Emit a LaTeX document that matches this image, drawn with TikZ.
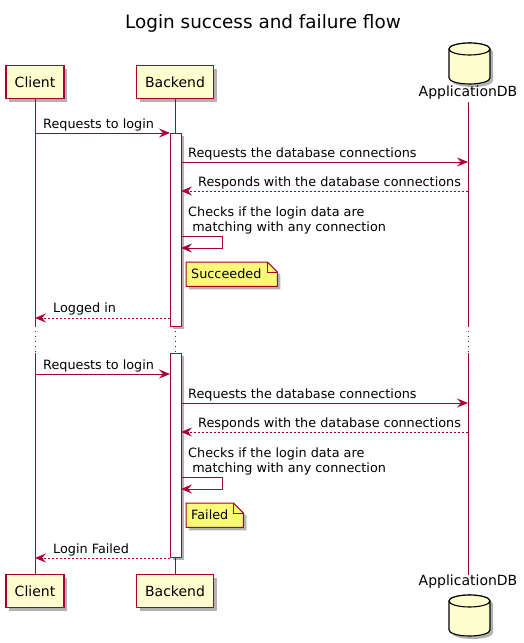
\documentclass[tikz,border=0pt]{standalone}
\usepackage{fontspec}
\setmainfont{DejaVu Sans}
\usetikzlibrary{arrows.meta,shadows,calc,backgrounds}
\definecolor{pu}{HTML}{A80036}
\definecolor{pfill}{HTML}{FEFECE}
\definecolor{nfill}{HTML}{FBFB77}
\begin{document}
\begin{tikzpicture}[x=1pt,y=-1pt,
  shad/.style={drop shadow={shadow xshift=3pt,shadow yshift=-3pt,opacity=0.3,fill=black}},
  part/.style={draw=pu,fill=pfill,line width=1.3pt,minimum width=#1,minimum height=33pt,
    inner sep=0pt,text height=13pt,text depth=2pt,font=\fontsize{14}{16}\selectfont,shad},
  dblbl/.style={anchor=base,inner sep=0pt,font=\fontsize{14}{16}\selectfont},
  cylst/.style={draw=black,fill=pfill,line width=1.1pt},
  life/.style={draw=pu,line width=1pt},
  delay/.style={draw=pu,line width=1pt,dash pattern=on 1pt off 4pt},
  bar/.style={draw=pu,fill=white,line width=1pt,minimum width=11pt,inner sep=0pt,outer sep=0pt,shad},
  msg/.style={draw=pu,line width=1pt,-{Stealth[length=11pt,width=9pt,inset=4pt]}},
  ret/.style={msg,dash pattern=on 2pt off 2pt},
  lbl/.style={anchor=base west,inner sep=0pt,font=\fontsize{12.8}{15}\selectfont},
  notenode/.style={anchor=north west,inner xsep=5pt,inner ysep=0pt,minimum height=24pt,
    text height=11pt,text depth=3pt,align=left,font=\fontsize{12.8}{15}\selectfont},
  noteline/.style={draw=pu,fill=nfill,line width=1pt},
]
\useasboundingbox (0,0) rectangle (523,643);

% title
\node[anchor=base,inner sep=0pt,font=\fontsize{18.4}{22}\selectfont] (title) at (263,28) {Login success and failure flow};

% participants
\node[part=58pt] (ct) at (35,82) {Client};
\node[part=77pt] (bt) at (175,82) {Backend};
\node[part=58pt] (cb) at (35,591) {Client};
\node[part=77pt] (bb) at (175,591) {Backend};
\node[dblbl] (dt) at (468,96) {ApplicationDB};
\node[dblbl] (db) at (468,585) {ApplicationDB};

% database cylinders
\draw[cylst,shad] (449,49) -- (449,78) arc[start angle=180,end angle=0,x radius=20.5,y radius=6]
  -- (490,49) arc[start angle=0,end angle=-180,x radius=20.5,y radius=6] -- cycle;
\draw[cylst] (469.5,49) ellipse[x radius=20.5,y radius=6];
\draw[cylst,shad] (449,601) -- (449,630) arc[start angle=180,end angle=0,x radius=20.5,y radius=6]
  -- (490,601) arc[start angle=0,end angle=-180,x radius=20.5,y radius=6] -- cycle;
\draw[cylst] (469.5,601) ellipse[x radius=20.5,y radius=6];

% lifelines
\coordinate (c-d1) at (ct |- 0,326);
\coordinate (c-d2) at (ct |- 0,353);
\coordinate (b-d1) at (bt |- 0,326);
\coordinate (b-d2) at (bt |- 0,353);
\coordinate (d-top) at (dt |- 0,102);
\coordinate (d-d1) at (dt |- 0,326);
\coordinate (d-d2) at (dt |- 0,353);
\coordinate (d-bot) at (dt |- 0,575);
\draw[life] (ct.south) -- (c-d1);
\draw[delay] (c-d1) -- (c-d2);
\draw[life] (c-d2) -- (cb.north);
\draw[life] (bt.south) -- (b-d1);
\draw[delay] (b-d1) -- (b-d2);
\draw[life] (b-d2) -- (bb.north);
\draw[life] (d-top) -- (d-d1);
\draw[delay] (d-d1) -- (d-d2);
\draw[life] (d-d2) -- (d-bot);

% activation bars
\node[bar,minimum height=193pt] (a1) at (175.5,229.5) {};
\node[bar,minimum height=204pt] (a2) at (175.5,455) {};

% ---- success flow
\draw[msg] (ct |- 0,133) -- (a1.west |- 0,133);
\node[lbl] (l1) at (43,128) {Requests to login};
\draw[msg] (a1.east |- 0,162) -- (dt |- 0,162);
\node[lbl] (l2) at (188,157) {Requests the database connections};
\draw[ret] (dt |- 0,191) -- (a1.east |- 0,191);
\node[lbl] (l3) at (198,186) {Responds with the database connections};
\node[lbl] (l4) at (188,216) {Checks if the login data are};
\node[lbl] (l5) at (188,231) {\ matching with any connection};
\coordinate (s1a) at (222,236);
\coordinate (s1b) at (222,248);
\draw[msg] (a1.east |- s1a) -- (s1a) -- (s1b) -- (a1.east |- s1b);
\node[notenode,text width=81pt] (n1) at (186,262) {Succeeded};
\begin{scope}[on background layer]
\draw[noteline,shad] (n1.north west) -- ([xshift=-10pt]n1.north east) -- ([yshift=-10pt]n1.north east)
  -- (n1.south east) -- (n1.south west) -- cycle;
\end{scope}
\draw[noteline,fill=none] ([xshift=-10pt]n1.north east) -- ([xshift=-10pt,yshift=-10pt]n1.north east) -- ([yshift=-10pt]n1.north east);
\draw[ret] (a1.west |- 0,318) -- (ct |- 0,318);
\node[lbl] (l6) at (53,312) {Logged in};

% ---- failure flow
\draw[msg] (ct |- 0,374) -- (a2.west |- 0,374);
\node[lbl] (l7) at (43,369) {Requests to login};
\draw[msg] (a2.east |- 0,403) -- (dt |- 0,403);
\node[lbl] (l8) at (188,398) {Requests the database connections};
\draw[ret] (dt |- 0,432) -- (a2.east |- 0,432);
\node[lbl] (l9) at (198,427) {Responds with the database connections};
\node[lbl] (l10) at (188,457) {Checks if the login data are};
\node[lbl] (l11) at (188,472) {\ matching with any connection};
\coordinate (s2a) at (222,477);
\coordinate (s2b) at (222,489);
\draw[msg] (a2.east |- s2a) -- (s2a) -- (s2b) -- (a2.east |- s2b);
\node[notenode,text width=47pt] (n2) at (186,503) {Failed};
\begin{scope}[on background layer]
\draw[noteline,shad] (n2.north west) -- ([xshift=-10pt]n2.north east) -- ([yshift=-10pt]n2.north east)
  -- (n2.south east) -- (n2.south west) -- cycle;
\end{scope}
\draw[noteline,fill=none] ([xshift=-10pt]n2.north east) -- ([xshift=-10pt,yshift=-10pt]n2.north east) -- ([yshift=-10pt]n2.north east);
\draw[ret] (a2.west |- 0,558) -- (ct |- 0,558);
\node[lbl] (l12) at (53,553) {Login Failed};
\end{tikzpicture}
\end{document}
